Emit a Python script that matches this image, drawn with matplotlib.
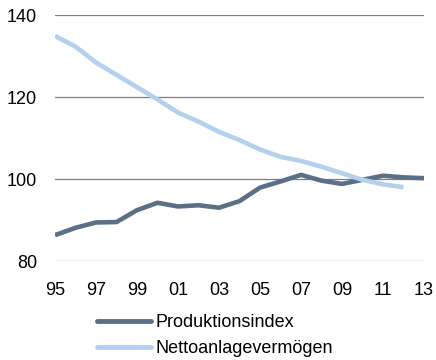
import matplotlib
matplotlib.use("Agg")
import matplotlib.pyplot as plt
from matplotlib.lines import Line2D

plt.rcParams['font.family'] = ['Liberation Sans', 'DejaVu Sans']

years = list(range(1995, 2014))
year_labels = ["95", "97", "99", "01", "03", "05", "07", "09", "11", "13"]

produktionsindex = [86.3, 88.1, 89.4, 89.5, 92.4, 94.2, 93.3, 93.6, 93.0, 94.6,
                    97.9, 99.4, 101.0, 99.6, 98.8, 99.8, 100.8, 100.4, 100.2]
nettoanlage_years = list(range(1995, 2013))
nettoanlagevermoegen = [134.9, 132.3, 128.4, 125.4, 122.4, 119.4, 116.2, 114.0, 111.5,
                        109.5, 107.2, 105.4, 104.4, 103.0, 101.4, 99.8, 98.7, 98.0]

c_dark = "#5a7086"
c_light = "#b3d0ef"
fs = 13

fig = plt.figure(figsize=(4.36, 3.60), dpi=100)
ax = fig.add_axes([55/436, 1 - 261/360, (424 - 55)/436, (261 - 15)/360])

ax.plot(years, produktionsindex, color=c_dark, lw=3.3, solid_capstyle='butt', zorder=3)
ax.plot(nettoanlage_years, nettoanlagevermoegen, color=c_light, lw=3.3,
        solid_capstyle='butt', zorder=3)

ax.set_xlim(1995, 2013)
ax.set_ylim(80, 140)
ax.set_yticks([80, 100, 120, 140])
ax.set_xticks(list(range(1995, 2014, 2)))
ax.set_xticklabels(year_labels)
for s in ax.spines.values():
    s.set_visible(False)
ax.grid(axis='y', color='#7f7f7f', lw=0.9)
ax.set_axisbelow(True)
ax.tick_params(axis='both', length=0, labelsize=fs, colors='#000000')
ax.tick_params(axis='y', pad=13)
ax.tick_params(axis='x', pad=15)

handles = [Line2D([], [], color=c_dark, lw=3.5, solid_capstyle='round'),
           Line2D([], [], color=c_light, lw=3.5, solid_capstyle='round')]
fig.legend(handles, ["Produktionsindex", "Nettoanlagevermögen"],
           loc='upper left', bbox_to_anchor=(97/436, 1 - 314/360),
           frameon=False, fontsize=fs, handlelength=3.0, handletextpad=0.22,
           labelspacing=0.5, borderpad=0, borderaxespad=0)

fig.savefig("out.png", dpi=100)
